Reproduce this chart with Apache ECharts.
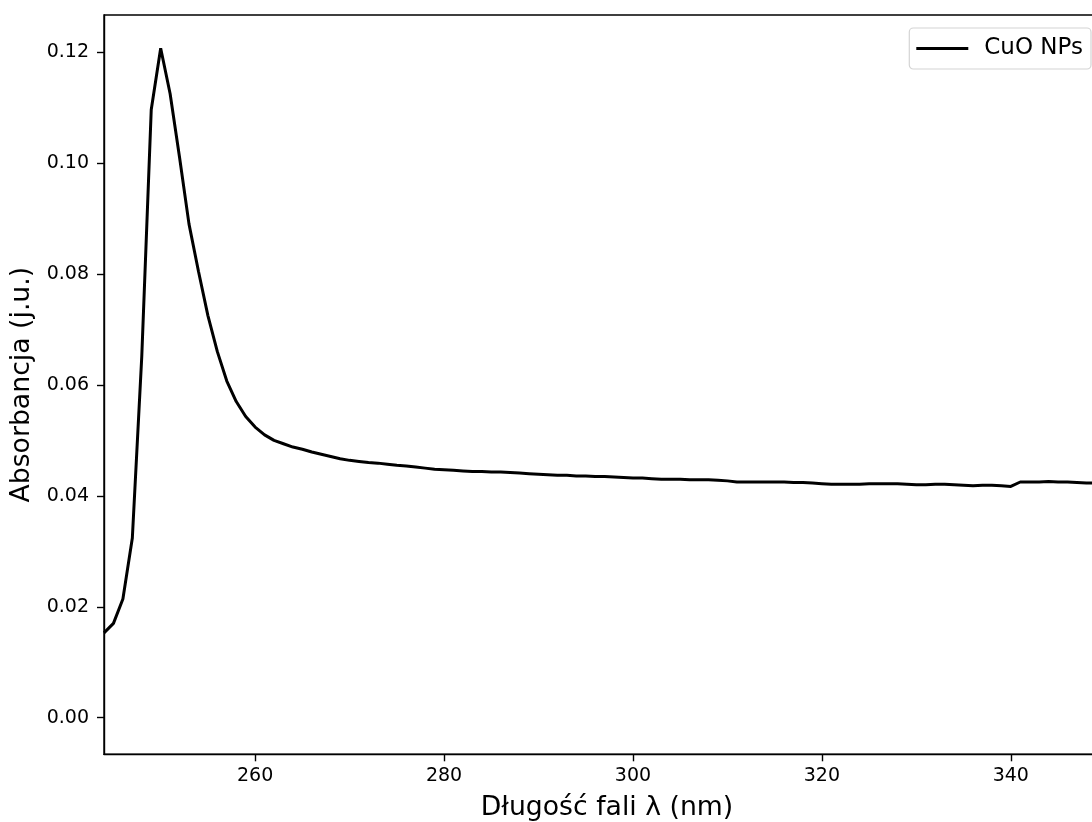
<!DOCTYPE html>
<html>
<head>
<meta charset="utf-8">
<script src="https://cdn.jsdelivr.net/npm/echarts@6/dist/echarts.min.js"></script>
<style>
html,body{margin:0;padding:0;background:#fff;overflow:hidden;width:1092px;height:822px;}
#chart{width:1120px;height:822px;}
</style>
</head>
<body>
<div id="chart"></div>
<script>
// Wavelength (nm)
const wavelengths = [244,245,246,247,248,249,250,251,252,253,254,255,256,257,258,259,260,261,262,263,264,265,266,267,268,269,270,271,272,273,274,275,276,277,278,279,280,281,282,283,284,285,286,287,288,289,290,291,292,293,294,295,296,297,298,299,300,301,302,303,304,305,306,307,308,309,310,311,312,313,314,315,316,317,318,319,320,321,322,323,324,325,326,327,328,329,330,331,332,333,334,335,336,337,338,339,340,341,342,343,344,345,346,347,348,349,350];
// Absorbance (a.u.) - CuO NPs
const absorbance = [0.0153,0.0170,0.0214,0.0324,0.0652,0.1096,0.1207,0.1125,0.1010,0.0890,0.0805,0.0725,0.0660,0.0607,0.0570,0.0543,0.0524,0.0510,0.0500,0.0494,0.0488,0.0484,0.0479,0.0475,0.0471,0.0467,0.0464,0.0462,0.0460,0.0459,0.0457,0.0455,0.0454,0.0452,0.0450,0.0448,0.0447,0.0446,0.0445,0.0444,0.0444,0.0443,0.0443,0.0442,0.0441,0.0440,0.0439,0.0438,0.0437,0.0437,0.0436,0.0436,0.0435,0.0435,0.0434,0.0433,0.0432,0.0432,0.0431,0.0430,0.0430,0.0430,0.0429,0.0429,0.0429,0.0428,0.0427,0.0425,0.0425,0.0425,0.0425,0.0425,0.0425,0.0424,0.0424,0.0423,0.0422,0.0421,0.0421,0.0421,0.0421,0.0422,0.0422,0.0422,0.0422,0.0421,0.0420,0.0420,0.0421,0.0421,0.0420,0.0419,0.0418,0.0419,0.0419,0.0418,0.0417,0.0425,0.0425,0.0425,0.0426,0.0425,0.0425,0.0424,0.0423,0.0423,0.0423];
const xTicks = [260,280,300,320,340];
const yTicks = [0,0.02,0.04,0.06,0.08,0.10,0.12];
const seriesName = 'CuO NPs';
const xTitle = 'Długość fali λ (nm)';
const yTitle = 'Absorbancja (j.u.)';

const data = wavelengths.map((w,i)=>[w, absorbance[i]]);
const font = 'DejaVu Sans';
const chart = echarts.init(document.getElementById('chart'), null, {renderer:'canvas'});
chart.setOption({
  animation:false,
  backgroundColor:'#fff',
  textStyle:{fontFamily:font},
  grid:{left:104, top:15, right:10, bottom:67.7, show:true, borderColor:'#000', borderWidth:1.4, backgroundColor:'transparent', containLabel:false, outerBoundsMode:'none'},
  legend:{
    show:true, right:29, top:28, orient:'vertical',
    padding:[9,8,9,7], borderColor:'#d4d4d4', borderWidth:1.2, borderRadius:4,
    backgroundColor:'rgba(255,255,255,0.8)',
    icon:'path://M0,0L52,0L52,3L0,3Z',
    itemWidth:52, itemHeight:3,
    textStyle:{fontFamily:font, fontSize:23, color:'#000', padding:[0,0,0,11]},
    data:[{name:seriesName}]
  },
  xAxis:{
    type:'value', min:244, max:350.5,
    name:xTitle, nameLocation:'middle', nameGap:40,
    nameTextStyle:{fontFamily:font, fontSize:26.7, color:'#000'},
    splitLine:{show:false},
    axisLine:{show:true, onZero:false, lineStyle:{color:'#000', width:1.4}},
    axisTick:{show:true, inside:false, length:7, lineStyle:{color:'#000', width:1.4}, customValues:xTicks},
    axisLabel:{fontFamily:font, fontSize:19, color:'#000', margin:12, customValues:xTicks}
  },
  yAxis:{
    type:'value', min:-0.0066, max:0.1267,
    name:yTitle, nameLocation:'middle', nameGap:61, nameRotate:90,
    nameTextStyle:{fontFamily:font, fontSize:26.7, color:'#000'},
    splitLine:{show:false},
    axisLine:{show:true, onZero:false, lineStyle:{color:'#000', width:1.4}},
    axisTick:{show:true, inside:false, length:7, lineStyle:{color:'#000', width:1.4}, customValues:yTicks},
    axisLabel:{fontFamily:font, fontSize:19, color:'#000', margin:15, customValues:yTicks, formatter:v=>v.toFixed(2)}
  },
  series:[{
    name:seriesName, type:'line', data:data, showSymbol:false, symbol:'none',
    clip:true,
    lineStyle:{color:'#000', width:3},
    itemStyle:{color:'#000'}
  }]
});
</script>
</body>
</html>
